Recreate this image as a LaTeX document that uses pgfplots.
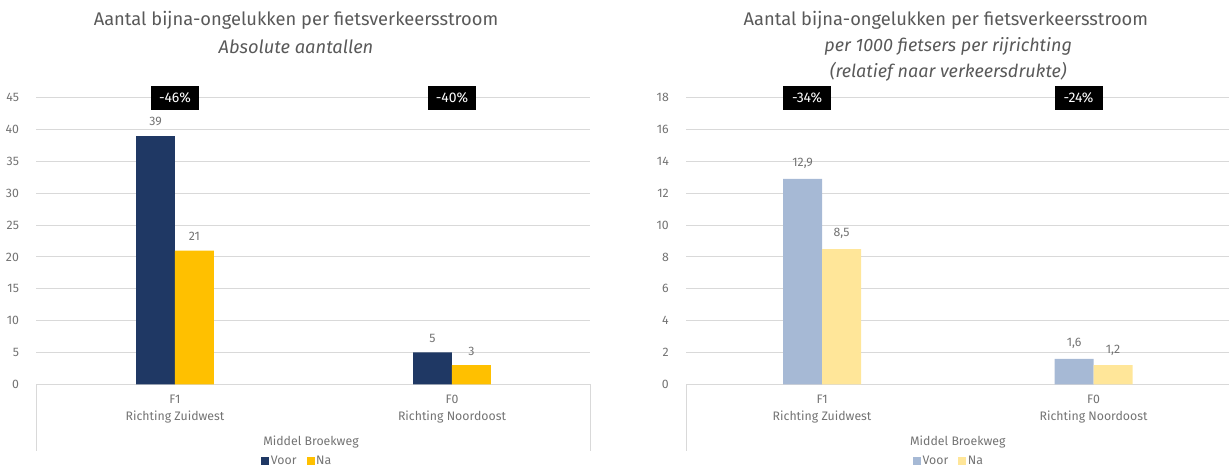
\documentclass[border=0pt]{standalone}
\usepackage{pgfplots}
\pgfplotsset{compat=1.18}
\usepackage{fontspec}
\setmainfont{Fira Sans}
\definecolor{navy}{HTML}{1F3864}
\definecolor{gold}{HTML}{FFC000}
\definecolor{lblue}{HTML}{A6B9D5}
\definecolor{lyellow}{HTML}{FFE699}
\definecolor{txt}{HTML}{737373}
\definecolor{ttl}{HTML}{595959}
\definecolor{grd}{HTML}{D9D9D9}

\tikzset{pct/.style={fill=black, text=white, font=\fontsize{8.4}{9}\selectfont,
  minimum width=28.8pt, minimum height=14.4pt, inner sep=0pt}}

\pgfplotsset{
  bb/.style={
    scale only axis, height=172.2pt, clip=false,
    xmin=0, xmax=4, ymin=0,
    ybar=0pt, bar width=23.4pt,
    xtick={1,3},
    xticklabels={{F1\\Richting Zuidwest},{F0\\Richting Noordoost}},
    xticklabel style={align=center, font=\fontsize{7.4}{10.4}\selectfont, text=txt, yshift=-3pt},
    yticklabel style={font=\fontsize{7.4}{8.4}\selectfont, text=txt, anchor=east, xshift=-7pt},
    /pgf/number format/assume math mode=true,
    ymajorgrids, grid style={grd, line width=0.6pt},
    axis x line*=bottom, axis y line*=left,
    y axis line style={draw=none},
    x axis line style={grd, line width=0.8pt, -},
    major tick length=0pt, tick style={draw=none},
    nodes near coords,
    every node near coord/.append style={font=\fontsize{7.4}{8.4}\selectfont, text=txt, yshift=2.5pt},
    /pgf/number format/use comma,
    legend columns=2,
    legend image code/.code={\fill[#1] (0pt,-2.3pt) rectangle (4.8pt,2.5pt);},
    legend style={draw=none, fill=none, font=\fontsize{7.4}{8.4}\selectfont, text=txt,
      /tikz/every even column/.append style={column sep=4pt}, inner sep=0pt,
      /tikz/every odd column/.append style={column sep=-1pt}},
  },
}

\begin{document}
\begin{tikzpicture}
\path (0,0) rectangle (738pt,282pt);

% left chart
\begin{axis}[bb, name=L, at={(21pt,51pt)}, anchor=south west, width=333pt,
  ymax=45, ytick={0,5,...,45},
  legend style={at={(0.472,-0.268)}, anchor=center}]
\addplot[fill=navy, draw=none] coordinates {(1,39) (3,5)};
\addplot[fill=gold, draw=none] coordinates {(1,21) (3,3)};
\legend{Voor,Na}
\node[pct] at (axis cs:1,45) {-46\%};
\node[pct] at (axis cs:3,45) {-40\%};
\end{axis}
\draw[grd, line width=0.6pt] (21pt,51pt) -- (21pt,10.8pt);
\draw[grd, line width=0.6pt] (354pt,51pt) -- (354pt,10.8pt);
\node[font=\fontsize{7.4}{8.4}\selectfont, text=txt] at (186pt,16.2pt) {Middel Broekweg};
\node[font=\fontsize{11}{13}\selectfont, text=ttl] at (177pt,270pt) {Aantal bijna-ongelukken per fietsverkeersstroom};
\node[font=\fontsize{11}{13}\selectfont\itshape, text=ttl] at (177pt,253.8pt) {Absolute aantallen};

% right chart
\begin{axis}[bb, name=R, at={(411.6pt,51pt)}, anchor=south west, width=326.4pt,
  ymax=18, ytick={0,2,...,18},
  legend style={at={(0.485,-0.268)}, anchor=center}]
\addplot[fill=lblue, draw=none] coordinates {(1,12.9) (3,1.6)};
\addplot[fill=lyellow, draw=none] coordinates {(1,8.5) (3,1.2)};
\legend{Voor,Na}
\node[pct, xshift=-9pt] at (axis cs:1,18) {-34\%};
\node[pct, xshift=-9pt] at (axis cs:3,18) {-24\%};
\end{axis}
\draw[grd, line width=0.6pt] (411.6pt,51pt) -- (411.6pt,10.8pt);
\node[font=\fontsize{7.4}{8.4}\selectfont, text=txt] at (574.8pt,16.2pt) {Middel Broekweg};
\node[font=\fontsize{11}{13}\selectfont, text=ttl] at (567.6pt,270pt) {Aantal bijna-ongelukken per fietsverkeersstroom};
\node[font=\fontsize{10.8}{15.6}\selectfont\itshape, text=ttl, align=center] at (569pt,246pt) {per 1000 fietsers per rijrichting\\(relatief naar verkeersdrukte)};
\end{tikzpicture}
\end{document}
